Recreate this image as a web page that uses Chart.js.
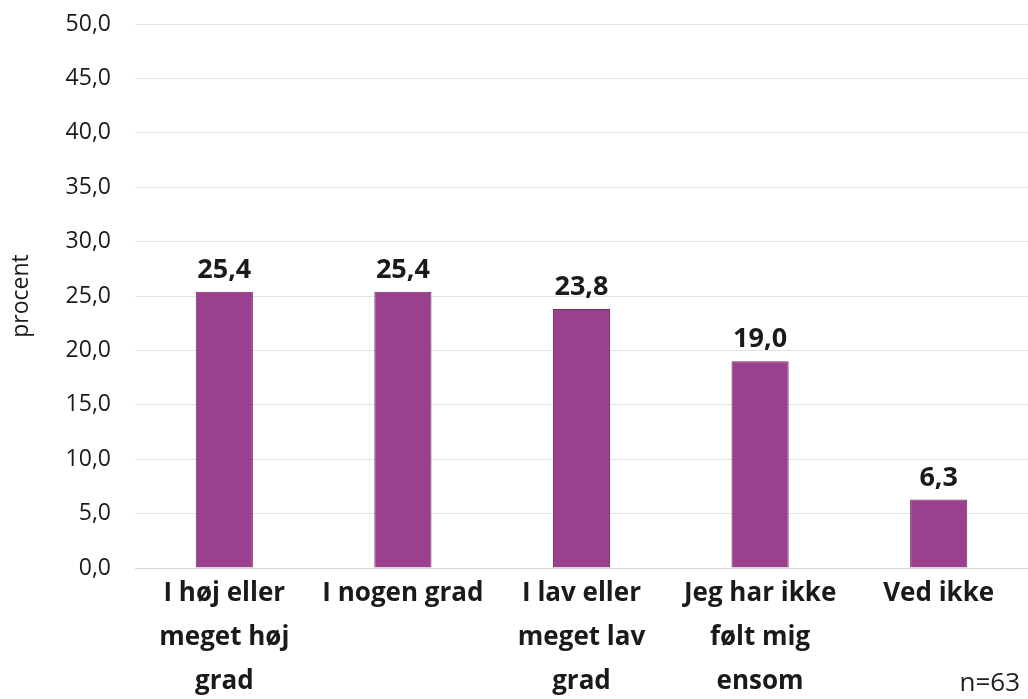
<!DOCTYPE html>
<html>
<head>
<meta charset="utf-8">
<script src="https://cdn.jsdelivr.net/npm/chart.js@4/dist/chart.umd.min.js"></script>
<style>
  body { margin: 0; background: #fff; }
  #wrap { position: relative; width: 1028px; height: 699px; }
  #n { position: absolute; right: 8px; bottom: 0px; font: 26px "Open Sans", sans-serif; color: #222; }
</style>
</head>
<body>
<div id="wrap">
  <canvas id="chart" width="1028" height="699"></canvas>
  <div id="n">n=63</div>
</div>
<script>
// Kategorier og værdier (procent)
const categories = [
  ['I høj eller', 'meget høj', 'grad'],
  'I nogen grad',
  ['I lav eller', 'meget lav', 'grad'],
  ['Jeg har ikke', 'følt mig', 'ensom'],
  'Ved ikke'
];
const values = [25.4, 25.4, 23.8, 19.0, 6.3];
const yTicks = [0, 5, 10, 15, 20, 25, 30, 35, 40, 45, 50];

const fmt = v => v.toFixed(1).replace('.', ',');

// Tal over søjlerne
const barLabels = {
  id: 'barLabels',
  afterDatasetsDraw(chart) {
    const ctx = chart.ctx;
    const meta = chart.getDatasetMeta(0);
    ctx.save();
    ctx.font = 'bold 27px "Open Sans", sans-serif';
    ctx.fillStyle = '#1a1a1a';
    ctx.textAlign = 'center';
    ctx.textBaseline = 'bottom';
    meta.data.forEach((bar, i) => {
      ctx.fillText(fmt(values[i]), bar.x, bar.y - 8);
    });
    ctx.restore();
  }
};

const ctx = document.getElementById('chart').getContext('2d');
new Chart(ctx, {
  type: 'bar',
  data: {
    labels: categories,
    datasets: [{
      data: values,
      backgroundColor: '#9b3f8f',
      borderColor: '#6b2a63',
      borderWidth: 1,
      categoryPercentage: 1,
      barPercentage: 0.32
    }]
  },
  options: {
    responsive: false,
    animation: false,
    layout: { padding: { top: 0, right: 0, left: 8, bottom: 0 } },
    plugins: { legend: { display: false }, tooltip: { enabled: false } },
    scales: {
      x: {
        grid: { display: false, drawTicks: false },
        border: { color: '#d9d9d9' },
        ticks: {
          color: '#1a1a1a',
          font: { family: '"Open Sans", sans-serif', size: 26, weight: 'bold', lineHeight: 1.68 },
          padding: 4,
          maxRotation: 0,
          autoSkip: false
        },
        afterFit: s => { s.height = 131; s.paddingLeft = 0; s.paddingRight = 0; }
      },
      y: {
        min: 0,
        max: 50,
        afterBuildTicks: s => { s.ticks = yTicks.map(v => ({ value: v })); },
        grid: { color: '#e3e3e3', drawTicks: false },
        border: { display: false },
        ticks: {
          color: '#1a1a1a',
          font: { family: '"Open Sans", sans-serif', size: 23 },
          padding: 24,
          callback: v => fmt(v)
        },
        title: {
          display: true,
          text: 'procent',
          color: '#1a1a1a',
          font: { family: '"Open Sans", sans-serif', size: 23 },
          padding: { top: 0, bottom: 0 }
        },
        afterFit: s => { s.width = 127; s.paddingTop = 24; s.paddingBottom = 0; }
      }
    }
  },
  plugins: [barLabels]
});
</script>
</body>
</html>
